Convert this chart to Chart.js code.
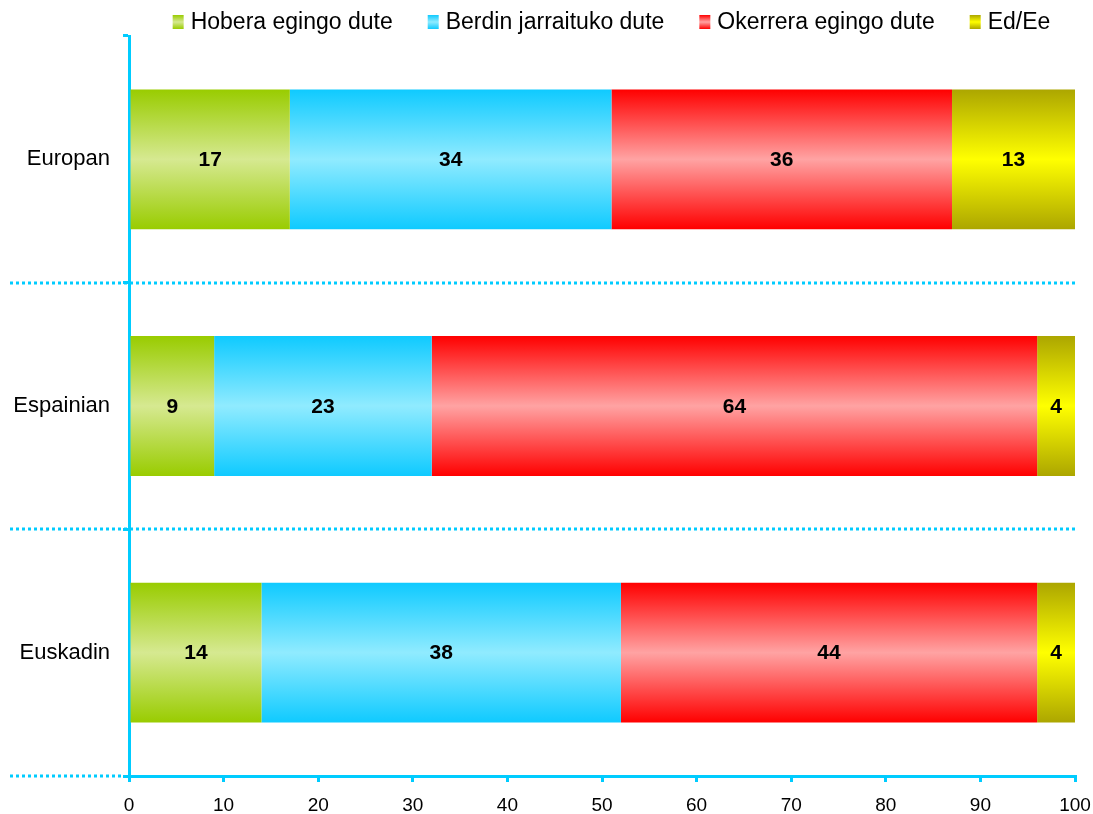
<!DOCTYPE html>
<html>
<head>
<meta charset="utf-8">
<script src="https://cdn.jsdelivr.net/npm/chart.js@4/dist/chart.umd.min.js"></script>
<style>
  html, body { margin: 0; padding: 0; background: #ffffff; }
  #wrap { width: 1093px; height: 814px; position: relative; }
</style>
</head>
<body>
<div id="wrap"><canvas id="c" width="1093" height="814"></canvas></div>
<script>
// ---- data ----
const categories = ['Europan', 'Espainian', 'Euskadin'];
const seriesLabels = ['Hobera egingo dute', 'Berdin jarraituko dute', 'Okerrera egingo dute', 'Ed/Ee'];
const hobera   = [17, 9, 14];
const berdin   = [34, 23, 38];
const okerrera = [36, 64, 44];
const edEe     = [13, 4, 4];
const xTicks   = [0, 10, 20, 30, 40, 50, 60, 70, 80, 90, 100];

// ---- styles ----
const FONT = '"Liberation Sans", Arial, sans-serif';
const CYAN = '#00ccff';
const BAR_PCT = 0.567;
const palette = [
  { dark: '#99cc00', light: '#d6e991' },
  { dark: '#0fcaff', light: '#90ebff' },
  { dark: '#ff0000', light: '#ffa3a3' },
  { dark: '#aca600', light: '#ffff00' }
];

function makeGrad(ctx2d, y0, y1, p) {
  const g = ctx2d.createLinearGradient(0, y0, 0, y1);
  g.addColorStop(0, p.dark);
  g.addColorStop(0.5, p.light);
  g.addColorStop(1, p.dark);
  return g;
}

function barFill(p) {
  return function (ctx) {
    const chart = ctx.chart;
    const ys = chart.scales && chart.scales.y;
    if (!chart.chartArea || !ys || ctx.dataIndex === undefined) return p.dark;
    const c = ys.getPixelForValue(ctx.dataIndex);
    const band = Math.abs(ys.getPixelForValue(1) - ys.getPixelForValue(0));
    const half = band * BAR_PCT / 2;
    return makeGrad(chart.ctx, c - half, c + half, p);
  };
}

const seriesData = [hobera, berdin, okerrera, edEe];
const datasets = seriesData.map((d, i) => ({
  label: seriesLabels[i],
  data: d,
  backgroundColor: barFill(palette[i]),
  borderWidth: 0,
  categoryPercentage: 1.0,
  barPercentage: BAR_PCT
}));

// dotted separators (extend into the label area)
const separators = {
  id: 'separators',
  beforeDatasetsDraw(chart) {
    const ys = chart.scales.y, ca = chart.chartArea, ctx = chart.ctx;
    const band = Math.abs(ys.getPixelForValue(1) - ys.getPixelForValue(0));
    ctx.save();
    ctx.strokeStyle = CYAN;
    ctx.lineWidth = 3;
    ctx.setLineDash([3, 3]);
    categories.forEach((_, i) => {
      const y = Math.round(ys.getPixelForValue(i) + band / 2);
      const last = i === categories.length - 1;
      ctx.beginPath();
      ctx.moveTo(10, y);
      ctx.lineTo(last ? ca.left - 6 : ca.right, y);
      ctx.stroke();
    });
    ctx.restore();
  }
};

// value labels inside bars
const valueLabels = {
  id: 'valueLabels',
  afterDatasetsDraw(chart) {
    const ctx = chart.ctx;
    ctx.save();
    ctx.font = 'bold 21px ' + FONT;
    ctx.fillStyle = '#000000';
    ctx.textAlign = 'center';
    ctx.textBaseline = 'middle';
    chart.data.datasets.forEach((ds, di) => {
      const meta = chart.getDatasetMeta(di);
      meta.data.forEach((el, j) => {
        ctx.fillText(String(ds.data[j]), (el.x + el.base) / 2, el.y + 1);
      });
    });
    ctx.restore();
  }
};

// legend with gradient boxes
const topLegend = {
  id: 'topLegend',
  afterDraw(chart) {
    const ctx = chart.ctx;
    ctx.save();
    ctx.font = '23px ' + FONT;
    const boxW = 11, boxH = 14, gapBT = 7, gapItem = 35;
    const widths = seriesLabels.map(t => ctx.measureText(t).width);
    let total = 0;
    widths.forEach((w, i) => { total += boxW + gapBT + w + (i < widths.length - 1 ? gapItem : 0); });
    let x = 611.5 - total / 2;
    const cy = 22;
    seriesLabels.forEach((t, i) => {
      ctx.fillStyle = makeGrad(ctx, cy - boxH / 2, cy + boxH / 2, palette[i]);
      ctx.fillRect(x, cy - boxH / 2, boxW, boxH);
      ctx.fillStyle = '#000000';
      ctx.textAlign = 'left';
      ctx.textBaseline = 'middle';
      ctx.fillText(t, x + boxW + gapBT, cy + 1);
      x += boxW + gapBT + widths[i] + gapItem;
    });
    ctx.restore();
  }
};

new Chart(document.getElementById('c'), {
  type: 'bar',
  data: { labels: categories, datasets },
  options: {
    indexAxis: 'y',
    responsive: false,
    animation: false,
    layout: { padding: { top: 36, right: 0, left: 0, bottom: 0 } },
    plugins: { legend: { display: false }, tooltip: { enabled: false }, title: { display: false } },
    scales: {
      x: {
        stacked: true,
        min: 0, max: 100,
        afterBuildTicks(scale) { scale.ticks = xTicks.map(v => ({ value: v })); },
        border: { display: true, color: CYAN, width: 3 },
        grid: { drawOnChartArea: false, drawTicks: true, tickLength: 6, color: CYAN, lineWidth: 3 },
        ticks: { color: '#000000', font: { family: FONT, size: 19 }, padding: 12, maxRotation: 0 },
        afterFit(scale) { scale.height = 38; scale.paddingRight = 18; }
      },
      y: {
        stacked: true,
        border: { display: true, color: CYAN, width: 3 },
        grid: { offset: true, drawOnChartArea: false, drawTicks: true, tickLength: 6, color: CYAN, lineWidth: 3 },
        ticks: { color: '#000000', font: { family: FONT, size: 22 }, padding: 13 },
        afterFit(scale) { scale.width = 129; }
      }
    }
  },
  plugins: [separators, valueLabels, topLegend]
});
</script>
</body>
</html>
